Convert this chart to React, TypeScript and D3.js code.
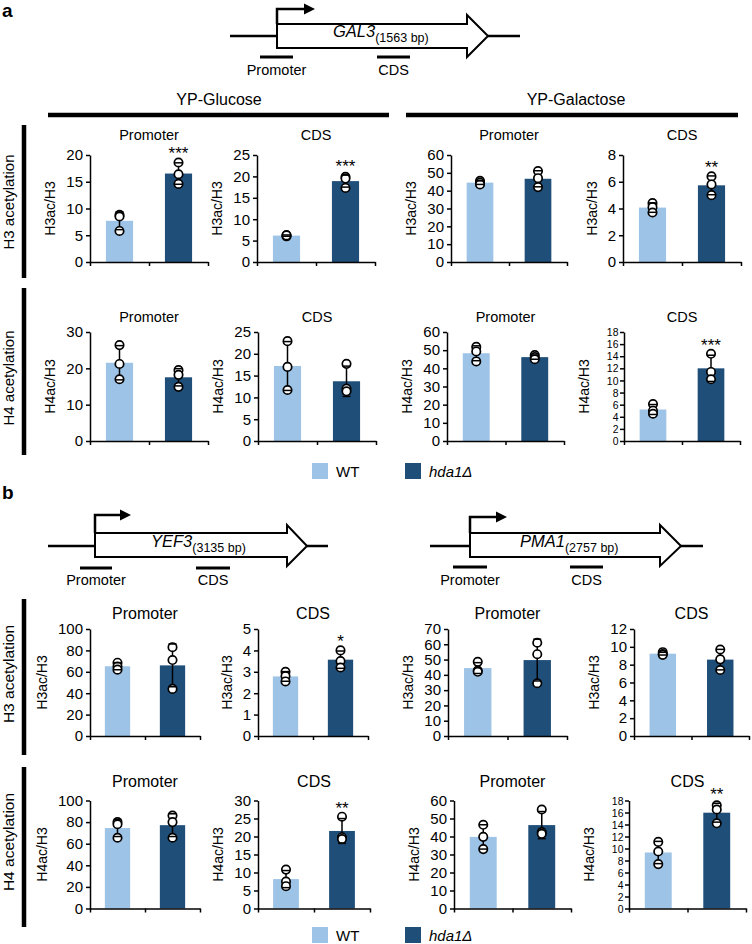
import React, { useEffect, useRef } from "react";
import * as d3 from "d3";

const FONT = "'Liberation Sans', Arial, sans-serif";

const STRAINS = ["WT", "hda1Δ"];
const COLORS = ["#9DC3E6", "#1F4E79"];
const REGIONS = ["Promoter", "CDS"];

// replicate values [WT, hda1Δ]
// panel a: GAL3, YP-Glucose / YP-Galactose
const gal3GluH3Promoter = [[8.8, 8.5, 5.8], [18.6, 16.4, 14.6]];
const gal3GluH3Cds = [[6.3, 6.0, 6.2], [19.9, 19.5, 17.3]];
const gal3GalH3Promoter = [[45.5, 44.5, 43.5], [51, 47, 42]];
const gal3GalH3Cds = [[4.4, 4.1, 3.7], [6.4, 5.8, 5.0]];
const gal3GluH4Promoter = [[26.4, 21.2, 17.0], [19.5, 18.2, 14.9]];
const gal3GluH4Cds = [[22.9, 17.0, 11.7], [17.7, 12.0, 11.4]];
const gal3GalH4Promoter = [[51.8, 49.3, 43.8], [47.3, 46.2, 45.0]];
const gal3GalH4Cds = [[6.1, 5.0, 4.5], [14.4, 11.4, 10.2]];
// panel b: YEF3 / PMA1
const yef3H3Promoter = [[68.5, 65, 62], [83, 71, 44]];
const yef3H3Cds = [[3.0, 2.8, 2.55], [4.0, 3.5, 3.2]];
const pma1H3Promoter = [[48.5, 42.8, 42], [61, 53.5, 34.5]];
const pma1H3Cds = [[9.4, 9.2, 9.1], [9.7, 8.6, 7.4]];
const yef3H4Promoter = [[80, 78, 65.5], [86, 80, 65.5]];
const yef3H4Cds = [[10.8, 7.5, 6.2], [25.5, 19.8, 19.3]];
const pma1H4Promoter = [[46.5, 39.8, 33], [55, 42.5, 41.5]];
const pma1H4Cds = [[11.1, 9.5, 7.4], [17.2, 16.5, 14.2]];

// y axis max / tick step / significance, same order as panels
const axisMax = [20, 25, 60, 8, 30, 25, 60, 18, 100, 5, 70, 12, 100, 30, 60, 18];
const axisStep = [5, 5, 10, 2, 10, 5, 10, 2, 20, 1, 10, 2, 20, 5, 10, 2];
const stars = ["***", "***", "", "**", "", "", "", "***", "", "*", "", "", "", "**", "", "**"];

const yLabels = ["H3ac/H3", "H4ac/H3", "H3ac/H3", "H4ac/H3"];
const rowLabels = ["H3 acetylation", "H4 acetylation", "H3 acetylation", "H4 acetylation"];
const conditions = ["YP-Glucose", "YP-Galactose"];

const panels = [
  gal3GluH3Promoter, gal3GluH3Cds, gal3GalH3Promoter, gal3GalH3Cds,
  gal3GluH4Promoter, gal3GluH4Cds, gal3GalH4Promoter, gal3GalH4Cds,
  yef3H3Promoter, yef3H3Cds, pma1H3Promoter, pma1H3Cds,
  yef3H4Promoter, yef3H4Cds, pma1H4Promoter, pma1H4Cds,
];

// layout
const rows = [
  { top: 155, bottom: 262, titleY: 140, titleSize: 14.5, bar: [125, 278], labelY: 202 },
  { top: 332, bottom: 441, titleY: 322, titleSize: 14.5, bar: [288, 455], labelY: 378 },
  { top: 629, bottom: 736, titleY: 619, titleSize: 16, bar: [599, 755], labelY: 674 },
  { top: 800.5, bottom: 908.5, titleY: 787, titleSize: 16, bar: [767, 927], labelY: 842 },
];
const cols = [
  [[90, 118], [257, 118], [451, 116], [623, 118]],
  [[90, 118], [258, 118], [447, 117], [624, 116]],
  [[90, 110], [258, 110], [448, 119], [634, 115]],
  [[90, 110], [258, 112], [454, 117], [629, 117]],
];

const genes = [
  { name: "GAL3", size: "(1563 bp)", l0: 230, l1: 520, b0: 277, h: 467, tip: 488, y: 36, top: 24, bot: 48, hTop: 15, hBot: 57, arY: 9, arTip: 315, nameX: 333, prom: [260, 293], cds: [377, 410], barY: 57, textY: 75 },
  { name: "YEF3", size: "(3135 bp)", l0: 48, l1: 328, b0: 95, h: 287, tip: 307, y: 546, top: 533, bot: 557, hTop: 525, hBot: 566, arY: 515, arTip: 131, nameX: 151, prom: [80, 112], cds: [196, 230], barY: 568, textY: 585 },
  { name: "PMA1", size: "(2757 bp)", l0: 430, l1: 703, b0: 470, h: 660, tip: 681, y: 546, top: 533, bot: 557, hTop: 525, hBot: 566, arY: 517, arTip: 507, nameX: 520, prom: [453, 487], cds: [570, 603], barY: 567, textY: 585 },
];

const App = () => {
  const svgRef = useRef<SVGSVGElement>(null);

  useEffect(() => {
    document.body.style.margin = "0";
    const svg = d3.select(svgRef.current);
    svg.selectAll("*").remove();
    svg.style("font-family", FONT);

    // panel letters
    svg.append("text").attr("x", 2).attr("y", 17).attr("font-size", 19).attr("font-weight", "bold").text("a");
    svg.append("text").attr("x", 2).attr("y", 499).attr("font-size", 19).attr("font-weight", "bold").text("b");

    // gene diagrams
    genes.forEach((gn) => {
      const g = svg.append("g");
      g.append("line").attr("x1", gn.l0).attr("x2", gn.b0).attr("y1", gn.y).attr("y2", gn.y).attr("stroke", "#000").attr("stroke-width", 2.5);
      g.append("line").attr("x1", gn.tip).attr("x2", gn.l1).attr("y1", gn.y).attr("y2", gn.y).attr("stroke", "#000").attr("stroke-width", 2.5);
      const p = d3.path();
      p.moveTo(gn.b0, gn.top);
      p.lineTo(gn.h, gn.top);
      p.lineTo(gn.h, gn.hTop);
      p.lineTo(gn.tip, gn.y);
      p.lineTo(gn.h, gn.hBot);
      p.lineTo(gn.h, gn.bot);
      p.lineTo(gn.b0, gn.bot);
      p.closePath();
      g.append("path").attr("d", p.toString()).attr("fill", "#fff").attr("stroke", "#000").attr("stroke-width", 2);
      // transcription start arrow
      g.append("path")
        .attr("d", `M${gn.b0},${gn.top} V${gn.arY} H${gn.arTip - 9}`)
        .attr("fill", "none").attr("stroke", "#000").attr("stroke-width", 2.5);
      g.append("path")
        .attr("d", `M${gn.arTip - 11},${gn.arY - 5.5} L${gn.arTip},${gn.arY} L${gn.arTip - 11},${gn.arY + 5.5} Z`)
        .attr("fill", "#000");
      const t = g.append("text").attr("x", gn.nameX).attr("y", gn.y + 1);
      t.append("tspan").attr("font-size", 16.5).attr("font-style", "italic").text(gn.name);
      t.append("tspan").attr("font-size", 12.5).attr("dy", 5).text(gn.size);
      [gn.prom, gn.cds].forEach((seg, i) => {
        g.append("line").attr("x1", seg[0]).attr("x2", seg[1]).attr("y1", gn.barY).attr("y2", gn.barY).attr("stroke", "#000").attr("stroke-width", 3);
        g.append("text").attr("x", (seg[0] + seg[1]) / 2).attr("y", gn.textY).attr("text-anchor", "middle").attr("font-size", 14.5).text(REGIONS[i]);
      });
    });

    // condition headers (panel a)
    [[48, 389, 219], [406, 738, 576]].forEach((c, i) => {
      svg.append("text").attr("x", c[2]).attr("y", 105).attr("text-anchor", "middle").attr("font-size", 16).text(conditions[i]);
      svg.append("line").attr("x1", c[0]).attr("x2", c[1]).attr("y1", 115).attr("y2", 115).attr("stroke", "#000").attr("stroke-width", 4.5);
    });

    // row brackets and labels
    rows.forEach((r, ri) => {
      svg.append("line").attr("x1", 24).attr("x2", 24).attr("y1", r.bar[0]).attr("y2", r.bar[1]).attr("stroke", "#000").attr("stroke-width", 4.5);
      svg.append("text")
        .attr("transform", `translate(9,${r.labelY}) rotate(-90)`)
        .attr("dy", "0.35em")
        .attr("text-anchor", "middle")
        .attr("font-size", ri < 2 ? 15 : 15.5)
        .text(rowLabels[ri]);
    });

    // bar panels
    panels.forEach((pts, i) => {
      const ri = Math.floor(i / 4);
      const ci = i % 4;
      const r = rows[ri];
      const [x0, w] = cols[ri][ci];
      const max = axisMax[i];
      const step = axisStep[i];
      const g = svg.append("g");

      const x = d3.scaleBand().domain(STRAINS).range([x0, x0 + w]);
      const y = d3.scaleLinear().domain([0, max]).range([r.bottom, r.top]);
      const bw = x.bandwidth() * 0.46;

      g.append("text").attr("x", x0 + w / 2).attr("y", r.titleY).attr("text-anchor", "middle").attr("font-size", r.titleSize).text(REGIONS[ci % 2]);

      const stats = pts.map((v) => ({ mean: d3.mean(v) as number, sd: d3.deviation(v) as number, v }));

      g.selectAll("rect.bar")
        .data(stats)
        .join("rect")
        .attr("class", "bar")
        .attr("x", (d, j) => (x(STRAINS[j]) as number) + (x.bandwidth() - bw) / 2)
        .attr("width", bw)
        .attr("y", (d) => y(d.mean))
        .attr("height", (d) => y(0) - y(d.mean))
        .attr("fill", (d, j) => COLORS[j]);

      stats.forEach((s, j) => {
        const cx = (x(STRAINS[j]) as number) + x.bandwidth() / 2;
        g.append("line").attr("x1", cx).attr("x2", cx).attr("y1", y(s.mean - s.sd)).attr("y2", y(s.mean + s.sd)).attr("stroke", "#000").attr("stroke-width", 1.5);
        g.selectAll(null)
          .data(s.v)
          .join("circle")
          .attr("cx", cx)
          .attr("cy", (d) => y(d))
          .attr("r", 4.2)
          .attr("fill", "#fff")
          .attr("stroke", "#000")
          .attr("stroke-width", 1.7);
        [s.mean - s.sd, s.mean + s.sd].forEach((e) => {
          g.append("line").attr("x1", cx - 4).attr("x2", cx + 4).attr("y1", y(e)).attr("y2", y(e)).attr("stroke", "#000").attr("stroke-width", 1.5);
        });
        if (j === 1 && stars[i]) {
          const topVal = Math.max(d3.max(s.v) as number, s.mean + s.sd);
          g.append("text").attr("x", cx).attr("y", y(topVal) - 3).attr("text-anchor", "middle").attr("font-size", 17).text(stars[i]);
        }
      });

      // y axis
      const dense = (r.bottom - r.top) / (max / step) < 14;
      const yAxis = d3
        .axisLeft(y)
        .tickValues(d3.range(0, max + step / 2, step))
        .tickFormat((d) => String(d))
        .tickSize(4)
        .tickSizeOuter(0)
        .tickPadding(3);
      const ya = g.append("g").attr("transform", `translate(${x0},0)`).call(yAxis);
      ya.attr("font-family", FONT).attr("font-size", dense ? 13 : 15);
      ya.selectAll("path,line").attr("stroke", "#000").attr("stroke-width", 1.5);
      ya.selectAll("text").attr("fill", "#000");
      // the reference squeezes the crowded 0-18 labels
      if (dense) ya.selectAll("text").attr("transform", "scale(0.8,0.88)");

      // x axis with ticks on category boundaries
      const xb = d3.scaleLinear().domain([0, 2]).range([x0, x0 + w]);
      const xAxis = d3.axisBottom(xb).tickValues([0, 1, 2]).tickFormat(() => "").tickSize(4).tickSizeOuter(0);
      const xa = g.append("g").attr("transform", `translate(0,${r.bottom})`).call(xAxis);
      xa.selectAll("path,line").attr("stroke", "#000").attr("stroke-width", 1.5);

      // y label
      const len = String(max).length;
      const lx = x0 - 8 - len * 8.3 - 15;
      g.append("text")
        .attr("transform", `translate(${lx},${(r.top + r.bottom) / 2}) rotate(-90)`)
        .attr("dy", "0.35em")
        .attr("text-anchor", "middle")
        .attr("font-size", 14)
        .text(yLabels[ri]);
    });

    // legends
    [463, 927].forEach((ly) => {
      [312, 405].forEach((lx, j) => {
        svg.append("rect").attr("x", lx).attr("y", ly).attr("width", 16).attr("height", 16).attr("fill", COLORS[j]);
        svg.append("text")
          .attr("x", lx + 24)
          .attr("y", ly + 14)
          .attr("font-size", 15)
          .attr("font-style", j === 1 ? "italic" : "normal")
          .text(STRAINS[j]);
      });
    });
  }, []);

  return <svg ref={svgRef} width={752} height={944} style={{ display: "block" }}></svg>;
};

export default App;
